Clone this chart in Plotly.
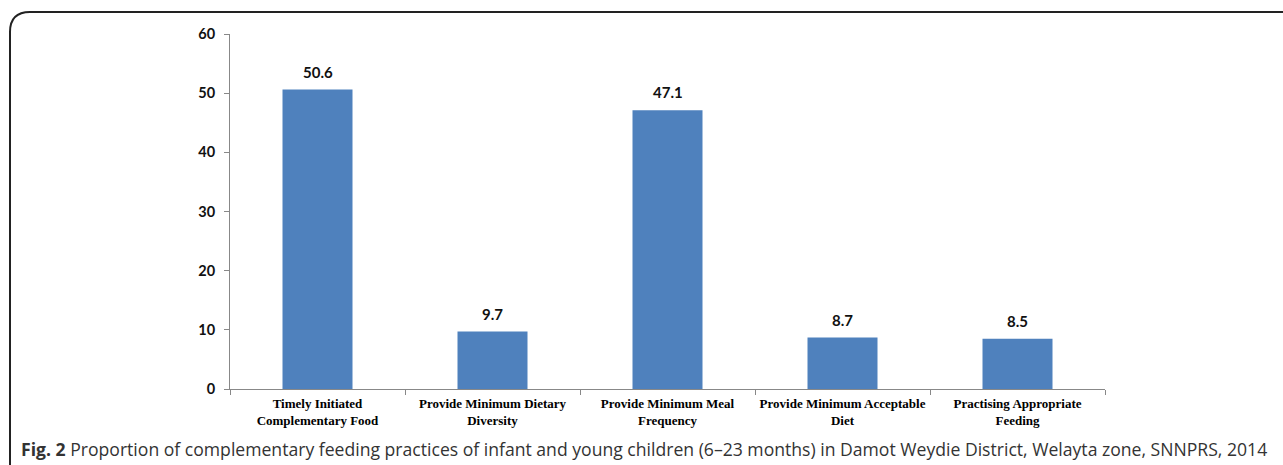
import plotly.graph_objects as go

categories = [
    "Timely Initiated<br>Complementary Food",
    "Provide Minimum Dietary<br>Diversity",
    "Provide Minimum Meal<br>Frequency",
    "Provide Minimum Acceptable<br>Diet",
    "Practising Appropriate<br>Feeding",
]
values = [50.6, 9.7, 47.1, 8.7, 8.5]
y_ticks = [0, 10, 20, 30, 40, 50, 60]

W, H = 1283, 465
L, R, T, B = 230, 1105, 34, 389

def px(x):
    return (x - L) / (R - L)

def py(y):
    return (B - y) / (B - T)

fig = go.Figure(go.Bar(
    x=categories, y=values,
    marker=dict(color="#4F81BD", line=dict(width=0)),
    width=0.4,
    cliponaxis=False,
))

frame = (f"M {px(1300)},{py(12)} L {px(30)},{py(12)} "
         f"Q {px(10)},{py(12)} {px(10)},{py(32)} L {px(10)},{py(480)}")

annotations = [dict(
    x=c, y=v, xref="x", yref="y", text=f"<b>{v}</b>",
    showarrow=False, xanchor="center", yanchor="bottom", yshift=7,
    font=dict(family="Lato, Open Sans, sans-serif", size=15, color="#111"),
) for c, v in zip(categories, values)]

annotations.append(dict(
    x=px(19), y=py(449), xref="paper", yref="paper",
    xanchor="left", yanchor="middle", showarrow=False,
    text="<b>Fig. 2</b> Proportion of complementary feeding practices of infant and young children (6–23 months) in Damot Weydie District, Welayta zone, SNNPRS, 2014",
    font=dict(family="Open Sans, sans-serif", size=17.6, color="#333"),
))

fig.update_layout(
    width=W, height=H,
    margin=dict(l=L, r=W - R, t=T, b=H - B, autoexpand=False),
    paper_bgcolor="white", plot_bgcolor="white",
    showlegend=False,
    bargap=0.6,
    shapes=[dict(type="path", path=frame, xref="paper", yref="paper",
                 line=dict(color="#222", width=2), layer="above")],
    annotations=annotations,
)

fig.update_xaxes(
    showline=True, linecolor="#888", linewidth=1,
    ticks="outside", tickson="boundaries", ticklen=5, tickcolor="#888",
    ticklabelstandoff=2, tickangle=0, automargin=False,
    tickfont=dict(family="Liberation Serif, serif", size=13, color="#000"),
    tickprefix="<b>", ticksuffix="</b>",
    showgrid=False, fixedrange=True,
)
fig.update_yaxes(
    range=[0, 60], tickvals=y_ticks,
    ticktext=[f"<b>{t}</b>" for t in y_ticks],
    showline=True, linecolor="#888", linewidth=1,
    ticks="outside", ticklen=5, tickcolor="#888",
    ticklabelstandoff=6, automargin=False,
    tickfont=dict(family="Lato, Open Sans, sans-serif", size=14.5, color="#111"),
    showgrid=False, zeroline=False,
)

fig.write_html("out.html")
